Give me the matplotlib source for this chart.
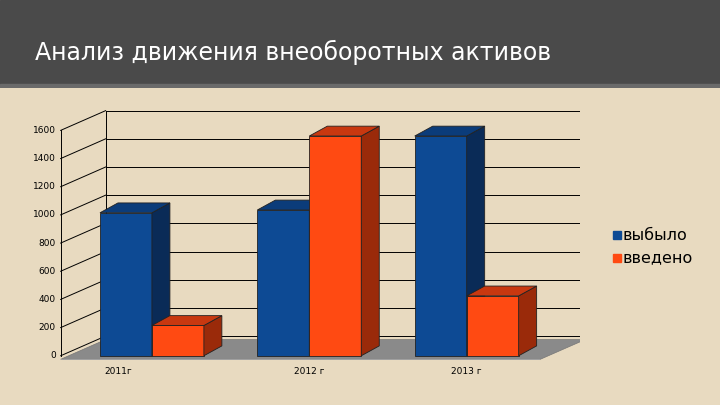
import matplotlib
matplotlib.use("Agg")
import matplotlib.pyplot as plt
from matplotlib.patches import Polygon, Rectangle

years = ["2011г", "2012 г", "2013 г"]
vybylo = [1015, 1035, 1560]
vvedeno = [215, 1560, 425]
yticks = [0, 200, 400, 600, 800, 1000, 1200, 1400, 1600]

fig = plt.figure(figsize=(7.2, 4.05), dpi=100)
fig.patch.set_facecolor("#E8DAC0")
# banner
bax = fig.add_axes([0, 1 - 88/405, 1, 88/405])
bax.set_axis_off()
bax.add_patch(Rectangle((0, 0), 1, 1, color="#4A4A4A", transform=bax.transAxes))
bax.add_patch(Rectangle((0, 0), 1, 0.04, color="#6A6A6A", transform=bax.transAxes))
fig.text(35/720, 1 - 52/405, "Анализ движения внеоборотных активов", color="white",
         fontsize=17, va="center", family="DejaVu Sans")

px = 157.5
x0 = -0.6
ax = fig.add_axes([57.5/720, 45/405, (580-57.5)/720, (360-110)/405*0+ (405-45-110)/405])
ax.set_xlim(x0, 2.72)
ymin = -30
ax.set_ylim(ymin, (356-110)/0.141)
ax.set_axis_off()

wdx, wdy = 45/px, 140   # wall depth
bdx, bdy = 18/px, 70    # bar depth
xl = -0.58
xr = xl + (540-60)/px
top = 1600
# floor
ax.add_patch(Polygon([(xl, -25), (xr, -25), (xr+wdx, -25+wdy), (xl+wdx, -25+wdy)],
                     closed=True, fc="#8A8A8A", ec="#777777", lw=0.5, zorder=1))
ax.add_patch(Polygon([(xl, -25), (xr, -25), (xr, -45), (xl, -45)],
                     closed=True, fc="#A0A0A0", ec="none", zorder=1))
# wall + gridlines
ax.add_patch(Polygon([(xl+wdx, wdy), (xr+wdx, wdy), (xr+wdx, top+wdy), (xl+wdx, top+wdy)],
                     closed=True, fc="#E8DAC0", ec="none", zorder=0))
for v in yticks:
    ax.plot([xl+wdx, xr+wdx], [v+wdy, v+wdy], color="black", lw=0.7, zorder=0.5)
    ax.plot([xl, xl+wdx], [v, v+wdy], color="black", lw=0.7, zorder=0.5)
    ax.text(xl-0.03, v, str(v), ha="right", va="center", fontsize=6.5)
ax.plot([xl, xl], [0, top], color="black", lw=0.7)
ax.plot([xl+wdx, xl+wdx], [wdy, top+wdy], color="black", lw=0.7)

w = 52/px
cols = [("#0D4A94", "#0A2B57", "#0B3C7A"), ("#FF4A12", "#9A2A0A", "#C83810")]
for i, (a, b) in enumerate(zip(vybylo, vvedeno)):
    for j, (v, c) in enumerate([(a, cols[0]), (b, cols[1])]):
        left = i + (j - 1) * w
        ax.bar(left, v, width=w, align="edge", color=c[0], ec="#222222", lw=0.6, zorder=3+j)
        ax.add_patch(Polygon([(left+w, 0), (left+w+bdx, bdy), (left+w+bdx, v+bdy), (left+w, v)],
                             closed=True, fc=c[1], ec="#222222", lw=0.6, zorder=3+j))
        ax.add_patch(Polygon([(left, v), (left+bdx, v+bdy), (left+w+bdx, v+bdy), (left+w, v)],
                             closed=True, fc=c[2], ec="#222222", lw=0.6, zorder=3+j))
    ax.text(i - w/2 - 0.05 if i == 0 else i - w/2*0, -110, years[i], ha="center", va="center", fontsize=6.5)

# legend
for k, (lab, c) in enumerate([("выбыло", "#0D4A94"), ("введено", "#FF4A12")]):
    yy = 1 - (235 + 23*k)/405
    fig.patches.append(Rectangle((613/720, yy - 4/405), 8/720, 8/405, color=c, transform=fig.transFigure))
    fig.text(623/720, yy, lab, fontsize=11.5, va="center")

fig.savefig("out.png", dpi=100, facecolor=fig.get_facecolor())
